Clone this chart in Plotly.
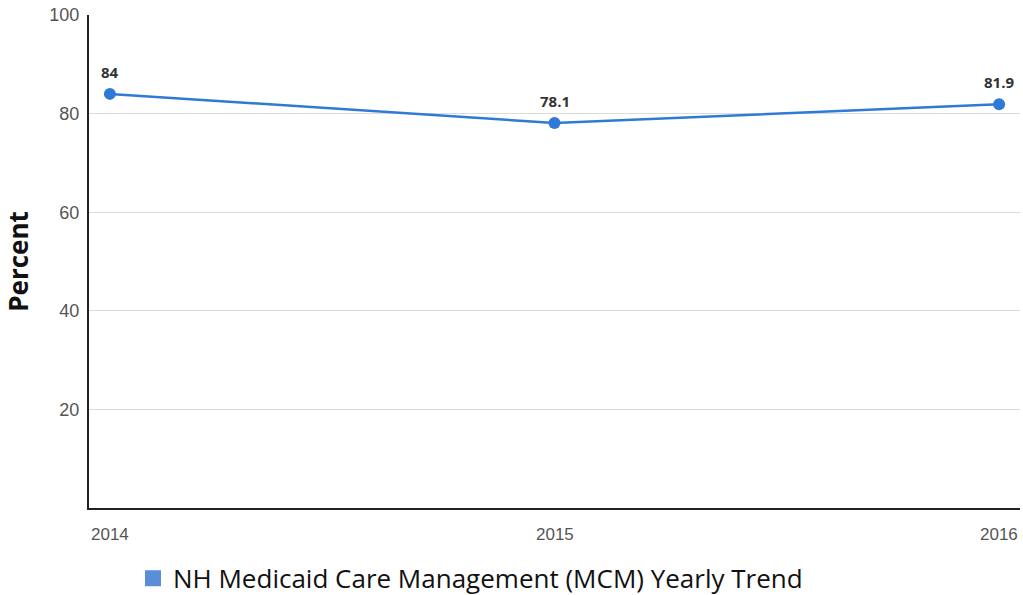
import plotly.graph_objects as go

years = [2014, 2015, 2016]
year_labels = ['2014', '2015', '2016']
percent = [84, 78.1, 81.9]
value_labels = ['84', '78.1', '81.9']
y_ticks = [20, 40, 60, 80, 100]
series_name = 'NH Medicaid Care Management (MCM) Yearly Trend'

LINE_BLUE = '#2f7ad6'
LEGEND_BLUE = '#5a8fd8'

fig = go.Figure()
fig.add_trace(go.Scatter(
    x=years,
    y=percent,
    mode='lines+markers',
    line=dict(color=LINE_BLUE, width=2.5),
    marker=dict(color=LINE_BLUE, size=12),
    showlegend=False,
    cliponaxis=False,
))
# legend-only entry drawn as a square swatch
fig.add_trace(go.Scatter(
    x=[None],
    y=[None],
    mode='markers',
    name=series_name,
    marker=dict(color=LEGEND_BLUE, symbol='square', size=16),
))

# value labels above the points
for x, y, lab in zip(years, percent, value_labels):
    fig.add_annotation(
        x=x, y=y, text='<b>%s</b>' % lab, showarrow=False,
        yshift=22, yanchor='middle',
        font=dict(family='Open Sans', size=15, color='#333333'),
    )

# year labels pinned to the edges like the original
anchors = ['left', 'center', 'right']
for i, lab in enumerate(year_labels):
    fig.add_annotation(
        x=i / (len(year_labels) - 1),
        xref='paper',
        y=0,
        yref='paper',
        yshift=-26,
        text=lab,
        showarrow=False,
        xanchor=anchors[i],
        yanchor='middle',
        font=dict(family='Liberation Sans', size=17, color='#555555'),
    )

fig.update_layout(
    width=1023,
    height=595,
    plot_bgcolor='white',
    paper_bgcolor='white',
    margin=dict(l=89, r=3, t=15, b=87),
    xaxis=dict(
        range=[2013.953, 2016.047],
        showgrid=False,
        showticklabels=False,
        showline=True,
        linecolor='#222222',
        linewidth=2,
        zeroline=False,
    ),
    yaxis=dict(
        range=[0, 100],
        tickvals=y_ticks,
        showgrid=True,
        gridcolor='#dcdcdc',
        gridwidth=1,
        showline=True,
        linecolor='#222222',
        linewidth=2,
        zeroline=False,
        ticks='',
        ticklabelstandoff=4,
        tickfont=dict(family='Liberation Sans', size=18, color='#555555'),
        title=dict(text='<b>Percent</b>',
                   font=dict(family='Open Sans', size=26, color='#111111'),
                   standoff=20),
    ),
    legend=dict(
        orientation='h',
        xref='container',
        yref='container',
        x=0.13,
        xanchor='left',
        y=0.028,
        yanchor='middle',
        font=dict(family='Open Sans', size=26, color='#111111'),
        itemsizing='trace',
    ),
)

fig.write_html("out.html", config={'displayModeBar': False},
               post_script="document.body.style.margin='0';")
